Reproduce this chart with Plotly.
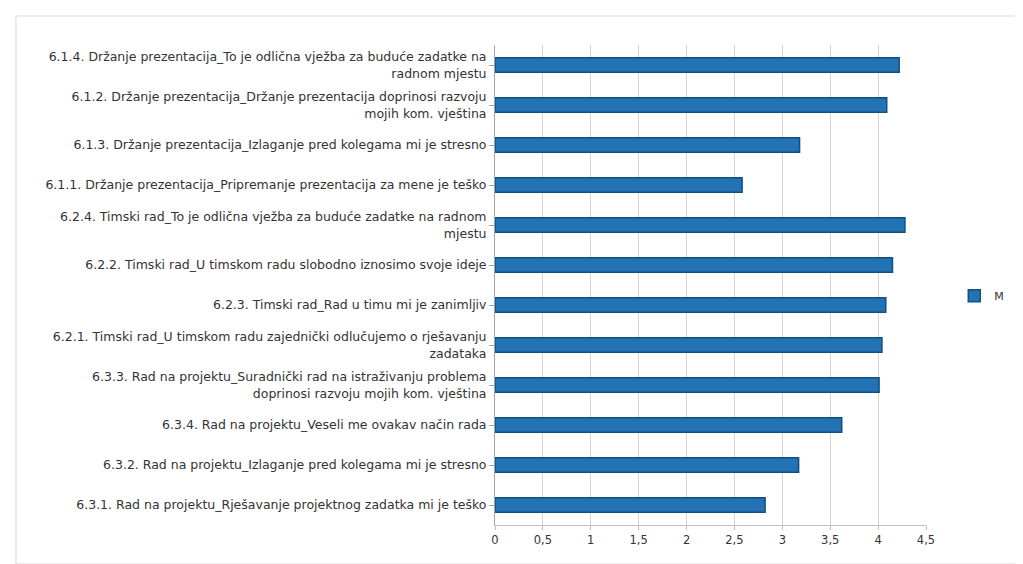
import plotly.graph_objects as go

labels = [
    "6.1.4. Držanje prezentacija_To je odlična vježba za buduće zadatke na<br>radnom mjestu",
    "6.1.2. Držanje prezentacija_Držanje prezentacija doprinosi razvoju<br>mojih kom. vještina",
    "6.1.3. Držanje prezentacija_Izlaganje pred kolegama mi je stresno",
    "6.1.1. Držanje prezentacija_Pripremanje prezentacija za mene je teško",
    "6.2.4. Timski rad_To je odlična vježba za buduće zadatke na radnom<br>mjestu",
    "6.2.2. Timski rad_U timskom radu slobodno iznosimo svoje ideje",
    "6.2.3. Timski rad_Rad u timu mi je zanimljiv",
    "6.2.1. Timski rad_U timskom radu zajednički odlučujemo o rješavanju<br>zadataka",
    "6.3.3. Rad na projektu_Suradnički rad na istraživanju problema<br>doprinosi razvoju mojih kom. vještina",
    "6.3.4. Rad na projektu_Veseli me ovakav način rada",
    "6.3.2. Rad na projektu_Izlaganje pred kolegama mi je stresno",
    "6.3.1. Rad na projektu_Rješavanje projektnog zadatka mi je teško",
]
values_M = [4.22, 4.09, 3.18, 2.58, 4.28, 4.15, 4.08, 4.04, 4.01, 3.62, 3.17, 2.82]
series_name = "M"
tick_vals = [0, 0.5, 1, 1.5, 2, 2.5, 3, 3.5, 4, 4.5]

fig = go.Figure()
fig.add_trace(go.Bar(
    y=labels, x=values_M, orientation="h", name=series_name,
    width=0.36,
    marker=dict(color="#2272b4", line=dict(color="#12507f", width=1.5)),
    showlegend=True,
))

L, R, T, B = 487, 105, 37, 47
W, H = 1023, 564
pw, ph = W - L - R, H - T - B

fig.update_layout(
    width=W, height=H,
    margin=dict(l=L, r=R, t=T, b=B),
    paper_bgcolor="white", plot_bgcolor="white",
    separators=", ",
    font=dict(family="DejaVu Sans, Arial, sans-serif", size=12.5, color="#333333"),
    bargap=0.6,
    xaxis=dict(
        range=[0, 4.5], tickvals=tick_vals,
        showgrid=True, gridcolor="#d4d4d4", gridwidth=1,
        showline=True, linecolor="#bfbfbf", zeroline=False,
        ticks="outside", ticklen=4, tickcolor="#bfbfbf",
        tickfont=dict(size=11.5, color="#333333"),
    ),
    yaxis=dict(
        categoryorder="array", categoryarray=labels[::-1],
        showline=True, linecolor="#a6a6a6",
        ticks="outside", ticklen=5, tickcolor="#a6a6a6",
        showgrid=False,
        tickfont=dict(size=12.5, color="#333333"),
    ),
    legend=dict(
        xref="container", yref="container",
        x=0.925, y=0.49, xanchor="left", yanchor="middle",
        font=dict(size=11, color="#333333"),
        itemwidth=30,
    ),
    shapes=[dict(
        type="rect", xref="paper", yref="paper",
        x0=(8 - L) / pw, x1=(1017 - L) / pw,
        y0=(H - B - 556) / ph, y1=(H - B - 8) / ph,
        line=dict(color="#d9d9d9", width=1), fillcolor="rgba(0,0,0,0)",
        layer="below",
    )],
)

fig.write_html("out.html")
